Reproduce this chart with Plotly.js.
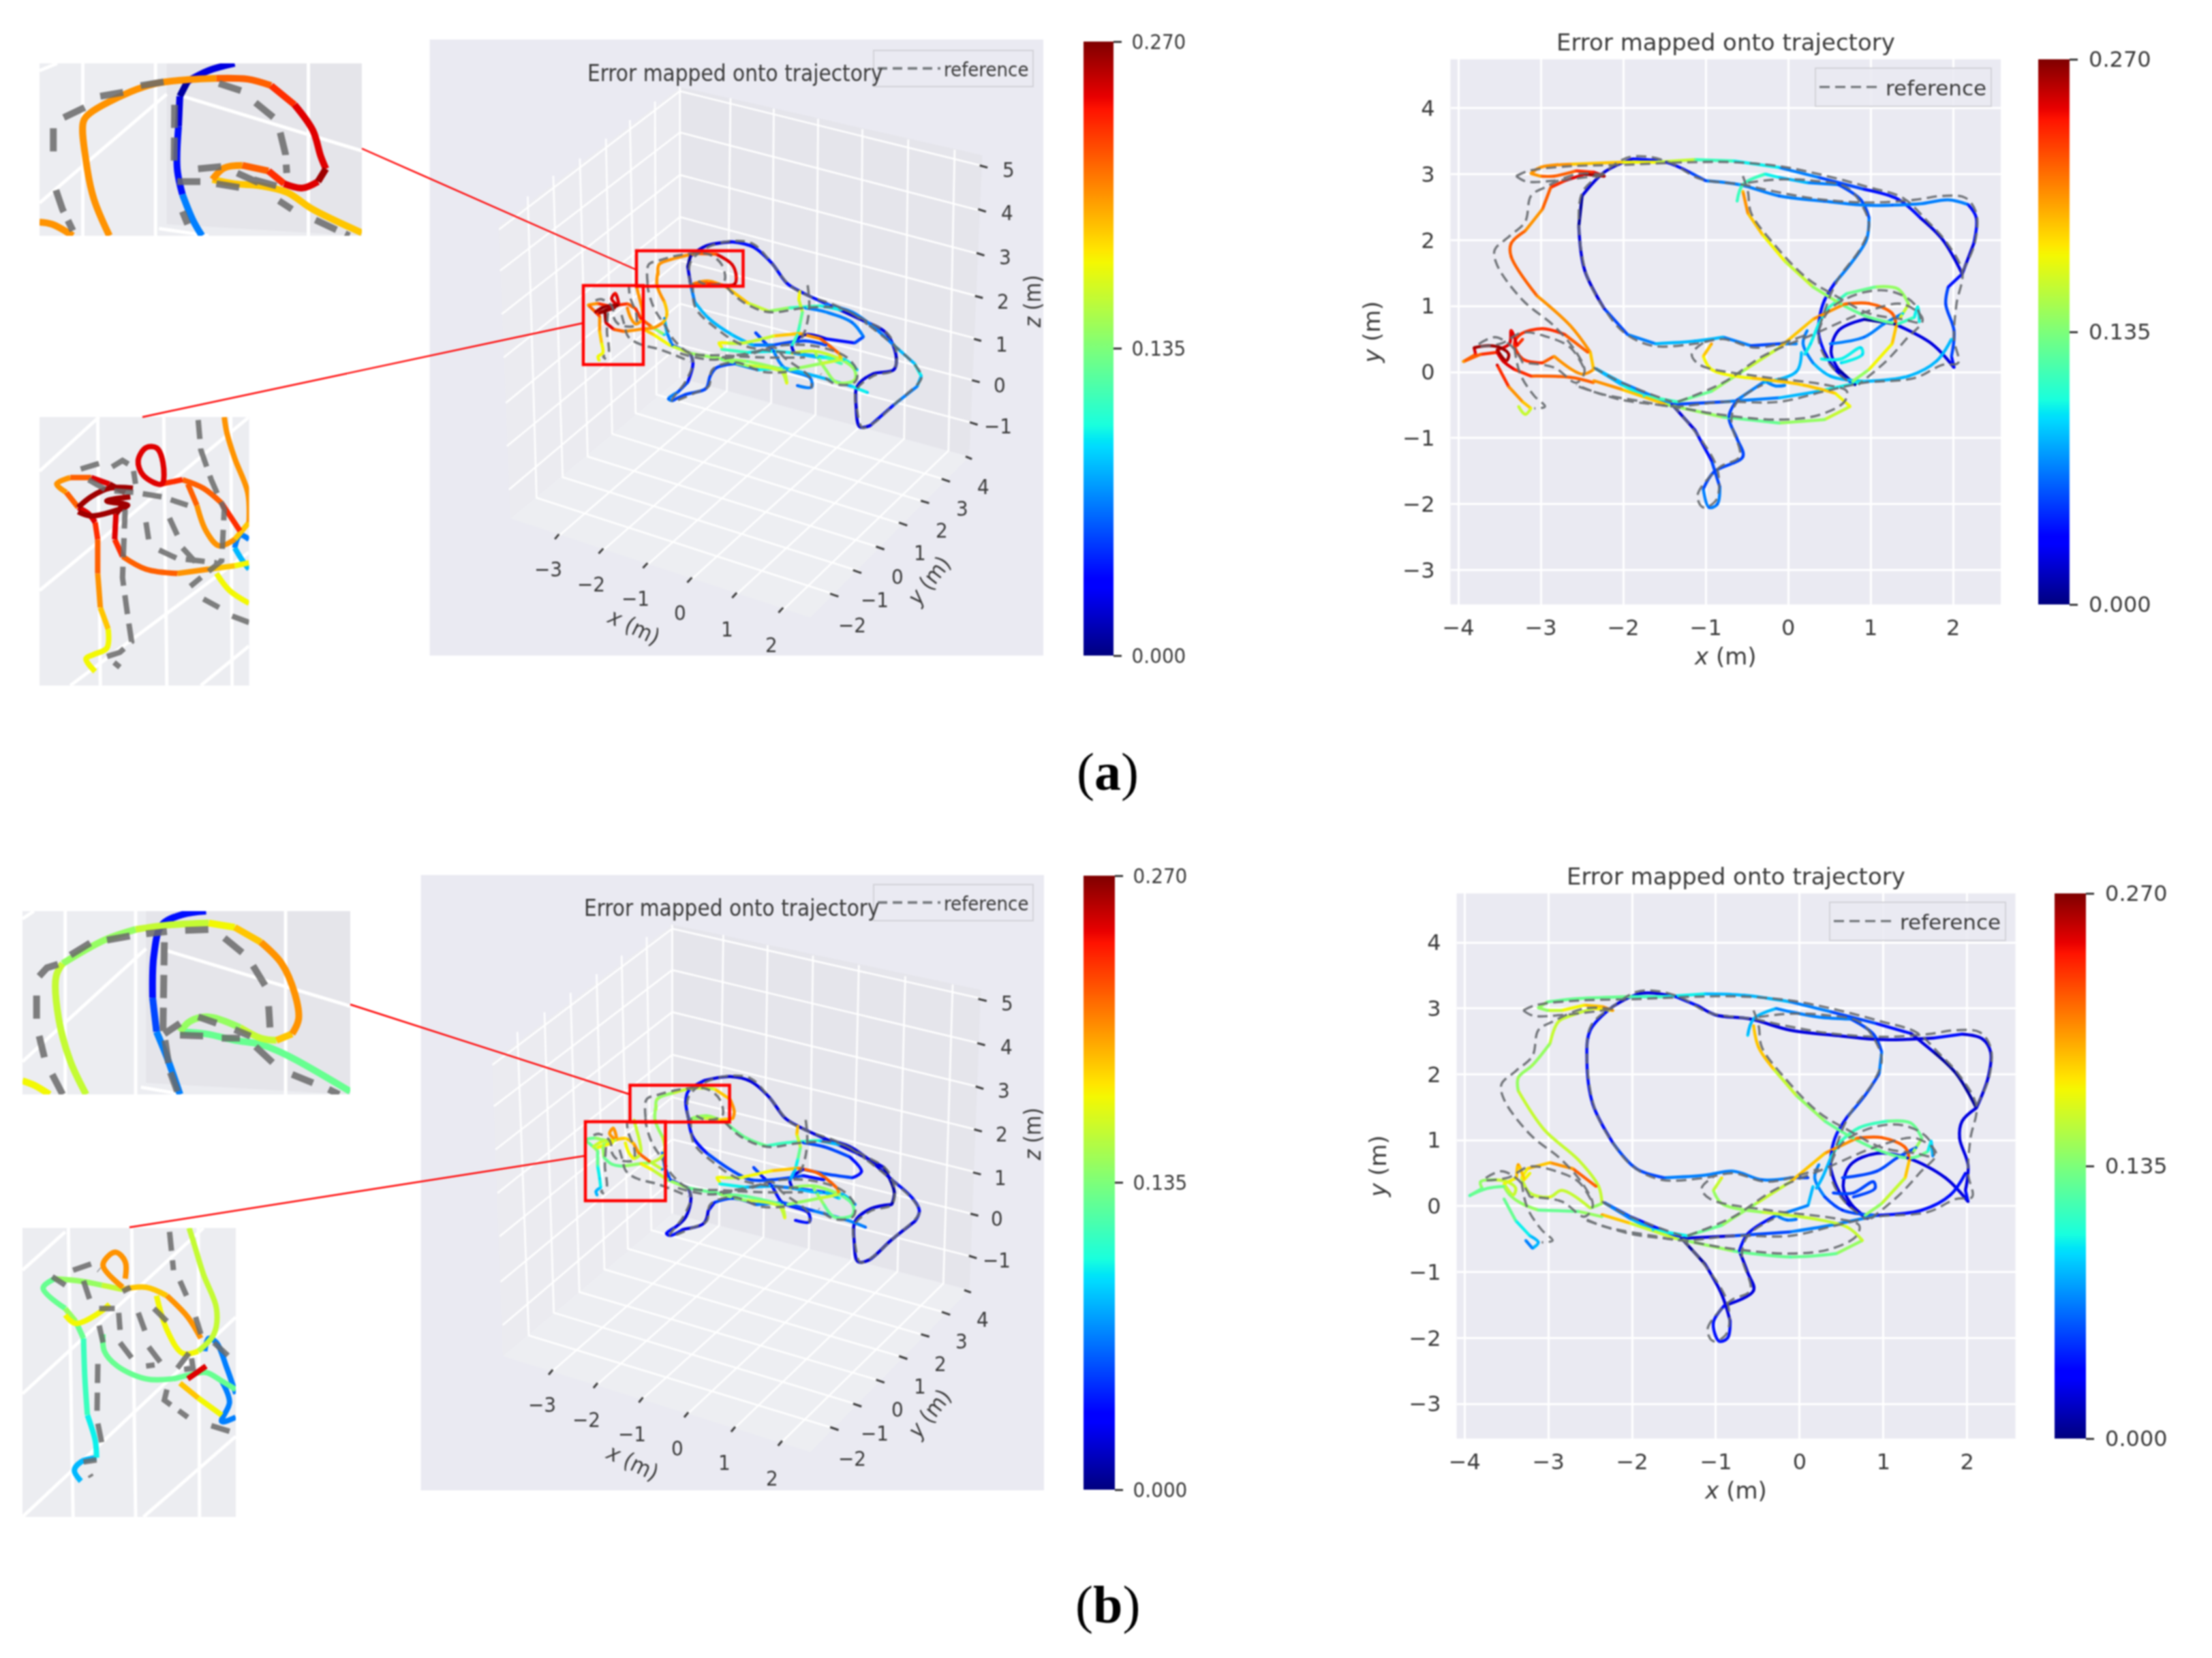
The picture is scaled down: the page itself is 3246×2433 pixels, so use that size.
<!DOCTYPE html>
<html><head><meta charset="utf-8">
<script src="https://cdn.plot.ly/plotly-3.0.1.min.js"></script>
<style>html,body{margin:0;padding:0;background:#fff}#chart{width:3246px;height:2433px;filter:blur(0.8px)}</style>
</head><body><div id="chart"></div>
<script>
// ---------- estimated trajectory, top view (metres); null = break between strokes ----------
const traj_x = [
-3.12,-3.01,-2.64,-2.02,-1.61,-1.13,-.66,-.11,.37,.92,1.33,1.60,1.87,2.11,1.94,1.91,2.01,1.98,2.01,null,
2.11,2.25,2.28,2.18,1.94,1.60,1.26,.92,.44,-.11,-.59,-1.0,-1.20,-1.48,-1.89,-2.23,-2.50,-2.54,-2.47,-2.23,-1.95,-1.61,-1.13,-.79,-.45,-.11,.10,null,
-.62,-.55,-.28,-.11,.23,.61,.88,.98,.95,.78,.57,.44,.38,.37,.44,.57,.81,null,
-.55,-.49,-.31,-.04,.30,.64,.98,1.33,1.53,1.57,1.59,null,
1.36,1.46,1.33,1.05,.71,.47,.37,.27,.20,null,
-2.33,-2.02,-1.75,-1.34,-.93,-.52,-.11,.30,.68,.98,1.26,1.31,1.26,.98,.78,null,
-1.41,-.79,-.11,.37,.92,1.46,1.80,1.98,null,
.92,.51,.30,.18,.23,null,
2.01,1.74,1.29,.92,.61,.52,.61,.81,null,
.51,.92,1.16,1.39,null,
.40,.64,.88,.90,.64,null,
-1.41,-1.13,-.93,-.83,-.86,-.96,-1.03,-.90,-.55,-.62,-.72,-.62,-.31,.10,.16,null,
-2.36,-2.02,-1.48,-.79,-.11,.44,.75,.57,.16,-.45,-.93,-1.03,-.93,null,
-2.23,-2.47,-2.71,-2.88,-2.98,-3.19,-3.36,-3.36,-3.05,-2.64,-2.40,-2.36,-2.50,-2.84,-2.98,-3.22,-3.32,-3.25,-2.98,-2.71,-2.43,null,
-3.12,-3.01,-2.84,-2.57,-2.36,-2.23,null,
-2.36,-2.64,-3.12,-3.32,-3.46,-3.53,-3.73,-3.94,null,
-3.94,-3.79,-3.81,-3.63,-3.49,-3.39,-3.42,-3.53,-3.38,-3.36,-3.29,-3.22,null,
-3.53,-3.39,-3.22,-3.12,-3.19,-3.27,null,
-2.33,-2.02,-1.41,null,
-.25,-.15,-.04];
const traj_y = [
3.01,3.10,3.15,3.18,3.18,3.22,3.20,3.10,2.95,2.77,2.62,2.34,2.01,1.49,1.29,1.03,.63,.24,.07,null,
1.49,1.95,2.34,2.54,2.61,2.55,2.53,2.53,2.59,2.67,2.84,2.90,3.03,3.18,3.23,3.03,2.67,2.21,1.55,.96,.57,.43,.47,.53,.40,.43,.43,null,
2.59,2.84,3.00,2.95,2.87,2.84,2.61,2.34,2.01,1.68,1.36,1.09,.83,.57,.30,.04,-.19,null,
2.74,2.41,2.08,1.68,1.29,1.03,.83,.73,.83,.99,.76,null,
.83,1.03,1.26,1.29,1.19,.96,.73,.43,.27,null,
.05,-.19,-.36,-.45,-.29,.04,.37,.80,1.03,1.04,.89,.70,.43,.04,-.14,null,
-.49,-.45,-.39,-.29,-.14,-.06,.17,.50,null,
-.14,-.06,.14,.43,.63,null,
.07,.43,.73,.80,.63,.30,.04,-.19,null,
.43,.53,.73,.89,null,
.20,.20,.37,.27,.14,null,
-.49,-.88,-1.34,-1.74,-2.0,-2.05,-1.77,-1.51,-1.28,-1.01,-.68,-.42,-.16,.01,.30,null,
-.13,-.26,-.49,-.68,-.77,-.72,-.52,-.32,-.19,-.09,.04,.24,.43,null,
2.97,3.0,2.90,2.80,2.47,2.14,1.95,1.75,1.16,.70,.30,.04,-.03,.24,.14,.20,.43,.57,.66,.57,.30,null,
3.01,2.97,2.97,3.05,3.03,2.97,null,
-.16,-.08,-.06,.04,.17,.30,.27,.16,null,
.16,.27,.37,.40,.37,.27,.17,.34,.43,.63,.40,.50,null,
.11,-.22,-.45,-.55,-.64,-.52,null,
.05,-.16,-.49,null,
-.16,-.21,-.20];
const err_a = [
.2,.2,.2,.18,.17,.13,.1,.09,.06,.04,.03,.03,.02,.02,.04,.05,.05,.05,.03,null,
.02,.03,.03,.05,.07,.07,.06,.07,.06,.06,.08,.05,.04,.03,.03,.02,.01,.01,.02,.03,.06,.08,.08,.08,.05,.05,.07,null,
.11,.11,.1,.09,.08,.05,.05,.06,.07,.07,.05,.03,.04,.03,.03,.02,.01,null,
.19,.2,.18,.16,.14,.13,.13,.12,.1,.1,.1,null,
.17,.15,.14,.13,.12,.1,.1,.09,.09,null,
.08,.09,.1,.11,.13,.15,.17,.19,.21,.22,.22,.2,.18,.16,.13,null,
.04,.05,.08,.09,.09,.08,.08,.09,null,
.09,.08,.07,.07,.07,null,
.03,.02,.01,.01,.02,.02,.01,.01,null,
.06,.06,.06,.09,null,
.1,.1,.09,.09,.09,null,
.02,.03,.04,.06,.06,.06,.06,.05,.05,.05,.05,.05,.07,.08,.09,null,
.2,.2,.16,.13,.13,.14,.17,.18,.18,.18,.17,.18,.2,null,
.25,.26,.24,.22,.21,.21,.22,.22,.21,.2,.19,.19,.2,.2,.23,.23,.24,.23,.23,.23,.22,null,
.2,.2,.22,.23,.24,.26,null,
.21,.22,.23,.24,.25,.25,.22,.2,null,
.2,.23,.26,.27,.27,.26,.25,.26,.24,.24,.24,.23,null,
.25,.21,.19,.17,.16,.16,null,
.07,.08,.04,null,
.07,.07,.07];
const err_b = [
.14,.13,.13,.12,.1,.09,.08,.07,.06,.04,.02,.015,.01,.01,.02,.02,.02,.03,.03,null,
.02,.02,.02,.02,.03,.03,.02,.02,.02,.02,.02,.02,.03,.03,.02,.02,.04,.04,.03,.04,.05,.06,.07,.07,.06,.06,.05,null,
.09,.08,.07,.07,.07,.06,.05,.06,.06,.05,.04,.04,.03,.03,.02,.02,.02,null,
.19,.19,.18,.15,.13,.12,.13,.13,.11,.09,.07,null,
.14,.13,.13,.12,.11,.1,.09,.08,.08,null,
.06,.07,.09,.11,.13,.15,.17,.19,.21,.22,.22,.2,.18,.15,.12,null,
.02,.03,.06,.07,.05,.03,.03,.03,null,
.05,.04,.05,.07,.07,null,
.02,.02,.02,.02,.02,.02,.02,.02,null,
.05,.05,.05,.06,null,
.05,.05,.05,.05,.05,null,
.01,.015,.02,.03,.04,.04,.04,.03,.02,.02,.03,.03,.05,.07,.09,null,
.2,.17,.16,.13,.12,.13,.16,.17,.16,.15,.14,.15,.18,null,
.18,.17,.16,.16,.15,.15,.15,.15,.16,.16,.16,.15,.15,.16,.17,.15,.17,.18,.19,.2,.22,null,
.14,.14,.16,.18,.19,.2,null,
.14,.13,.13,.14,.14,.13,.13,.12,null,
.12,.13,.14,.15,.16,.16,.16,.17,.18,.2,.18,.17,null,
.13,.11,.09,.08,.07,.07,null,
.05,.06,.02,null,
.06,.06,.06];
// ---------- reference trajectory, top view (metres) ----------
const ref_x = [
-3.30,-3.15,-2.64,-2.02,-1.20,-.66,-.11,.44,.98,1.39,1.67,1.91,2.11,2.04,2.01,2.06,1.87,1.53,.92,.44,-.11,-.79,-1.41,-1.75,-2.30,-2.57,null,
2.11,2.26,2.28,2.15,1.87,1.53,.98,.37,-.18,-.55,-1.07,-1.41,-1.68,-1.95,-2.23,-2.49,-2.54,-2.45,-2.23,-1.99,-1.65,-1.13,-.79,-.38,.23,null,
-.55,-.49,-.45,-.18,.23,.57,.98,1.39,1.60,1.53,1.26,.92,.51,.37,null,
-.49,-.11,.30,.71,.92,.98,.88,.61,.47,.37,.51,.78,null,
-2.23,-2.57,-2.95,-3.12,-3.19,-3.39,-3.56,-3.53,-3.22,-2.84,-2.57,-2.47,-2.57,-2.84,-3.22,null,
-3.30,-3.18,-2.84,-2.23,null,
-3.22,-3.29,-3.39,-3.56,-3.77,-3.49,-3.22,-2.91,-2.64,-2.47,null,
-3.32,-3.25,-3.08,-2.95,-3.08,null,
-2.54,-2.02,-1.41,-.79,-.11,.37,.68,.71,.44,-.38,-1.07,-1.17,-1.0,null,
-1.41,-1.10,-.86,-.87,-1.03,-1.10,-.83,-.59,-.69,-.62,-.31,null,
-1.34,-.79,-.31,.30,.98,1.39,1.63,1.43,1.19,.85,null,
-2.36,-2.02,-1.41];
const ref_y = [
2.97,3.05,3.12,3.14,3.18,3.18,3.12,2.98,2.80,2.64,2.31,1.98,1.52,1.03,.50,.14,.11,-.09,-.16,-.29,-.45,-.45,-.52,-.45,-.32,-.19,null,
1.52,1.95,2.41,2.64,2.67,2.61,2.57,2.62,2.74,2.84,2.93,3.16,3.26,3.25,3.03,2.74,2.28,1.49,.96,.60,.40,.43,.50,.37,.57,null,
2.97,2.74,2.41,1.95,1.42,1.16,.89,.80,.76,1.03,1.22,1.21,.96,.63,null,
2.87,2.92,2.90,2.80,2.47,2.21,1.88,1.42,1.03,.50,.11,-.19,null,
2.99,3.0,2.80,2.67,2.28,2.05,1.85,1.62,1.09,.70,.30,.01,-.16,.07,.14,null,
2.97,2.89,2.90,2.99,null,
.14,.30,.43,.53,.40,.43,.60,.53,.37,.04,null,
.37,-.03,-.36,-.52,-.55,null,
-.22,-.42,-.52,-.65,-.72,-.65,-.45,-.29,-.19,-.06,.11,.27,.47,null,
-.49,-.95,-1.47,-1.93,-2.05,-1.87,-1.44,-1.28,-.75,-.45,-.19,null,
-.45,-.16,.24,.57,.93,1.03,.80,.50,.17,-.19,null,
.07,-.16,-.45];
// ---------- 3D views: trajectory as read on the picture (u, v in view units) ----------
const view_u = [
540,535,540,570,620,660,695,725,750,810,870,915,935,930,890,860,858,865,885,930,975,983,970,930,890,850,800,null,
540,548,575,620,660,700,760,800,null,
760,800,850,872,855,800,760,735,740,800,830,null,
478,480,510,550,590,620,628,625,600,570,545,575,610,650,690,730,790,830,null,
478,476,490,495,488,470,449,413,393,378,376,null,
365,363,372,370,366,366,358,344,362,386,402,396,389,402,420,435,445,465,490,null,
358,370,388,400,378,366,395,null,
419,426,435,445,449,447,440,436,null,
490,495,505,540,545,535,515,498,505,530,570,578,590,625,670,720,null,
449,470,500,540,610,650,720,725,715,650,600,null,
600,595,610,640,700,750,790,825,830,790,730,null,
600,650,700,740,785,835,860,null,
665,680,700,720,770,772,745,null,
720,780,850,880,null,
750,748,755,750,745,735,null,
735,780,830,855,855,820,800,780];
const view_v = [
620,580,555,530,520,532,570,620,640,675,710,740,800,830,840,870,920,968,965,915,870,845,815,770,725,690,672,null,
620,665,705,745,770,770,760,770,null,
680,690,715,750,765,755,745,770,790,800,815,null,
600,575,560,548,550,575,605,622,625,620,622,615,630,668,688,680,675,685,null,
590,625,665,695,715,728,731,737,732,716,691,null,
807,798,789,767,737,700,690,673,669,676,673,645,658,673,670,682,706,725,745,null,
690,680,674,674,685,692,680,null,
680,705,719,712,700,680,645,625,null,
705,740,770,790,815,860,885,900,905,890,875,845,825,815,830,825,null,
731,745,770,790,805,810,830,862,835,820,805,null,
775,765,765,765,748,742,755,790,805,815,830,null,
780,788,785,790,800,805,830,null,
740,760,785,825,850,872,868,null,
825,845,870,885,null,
640,660,690,720,745,770,null,
790,785,805,830,855,860,830,790];
const view_err_a = [
.02,.01,.01,.02,.03,.03,.03,.03,.03,.03,.02,.02,.01,.02,.02,.02,.02,.02,.03,.05,.07,.09,.09,.07,.07,.07,.07,null,
.06,.07,.08,.09,.08,.06,.05,.05,null,
.07,.07,.06,.06,.05,.03,.02,.02,.02,.1,.12,null,
.2,.2,.2,.21,.23,.25,.24,.26,.24,.22,.2,.2,.19,.18,.15,.12,.1,.09,null,
.2,.2,.19,.19,.19,.2,.2,.21,.23,.25,.27,null,
.17,.17,.17,.17,.19,.22,.24,.2,.21,.25,.26,.24,.25,.25,.22,.23,.24,.2,.09,null,
.26,.27,.27,.27,.27,.26,.26,null,
.21,.2,.2,.19,.19,.2,.2,.2,null,
.07,.08,.06,.03,.03,.05,.06,.06,.06,.05,.05,.05,.05,.06,.08,.1,null,
.19,.18,.17,.15,.14,.13,.14,.17,.16,.15,.13,null,
.17,.17,.17,.16,.17,.19,.22,.2,.18,.15,.14,null,
.12,.1,.1,.08,.09,.09,.09,null,
.05,.05,.05,.07,.06,.06,.06,null,
.08,.08,.09,.09,null,
.17,.17,.13,.12,.11,.1,null,
.17,.16,.15,.14,.15,.15,.14,.15];
const view_err_b = [
.03,.03,.03,.03,.02,.02,.02,.02,.02,.02,.015,.015,.01,.015,.02,.03,.02,.02,.02,.02,.03,.03,.03,.03,.02,.02,.03,null,
.03,.03,.04,.05,.05,.05,.04,.04,null,
.05,.05,.04,.03,.04,.06,.03,.02,.02,.06,.1,null,
.15,.15,.15,.16,.17,.19,.2,.2,.17,.15,.13,.14,.13,.13,.12,.11,.1,.07,null,
.15,.15,.15,.16,.16,.15,.14,.13,.13,.13,.14,null,
.08,.08,.09,.09,.11,.13,.14,.12,.14,.15,.19,.2,.2,.19,.18,.19,.21,.23,.07,null,
.16,.17,.16,.15,.14,.17,.17,null,
.17,.17,.17,.16,.16,.16,.16,.16,null,
.06,.06,.05,.02,.02,.02,.03,.03,.03,.03,.02,.03,.04,.05,.06,.09,null,
.18,.17,.14,.13,.13,.12,.14,.17,.16,.14,.13,null,
.17,.17,.17,.16,.18,.2,.22,.21,.18,.15,.13,null,
.1,.09,.07,.07,.08,.08,.07,null,
.05,.04,.04,.04,.03,.03,.03,null,
.05,.06,.07,.06,null,
.19,.18,.15,.11,.09,.07,null,
.15,.14,.13,.13,.13,.13,.13,.14];
const view_ref_u = [
540,540,575,625,660,695,730,765,820,875,920,935,930,890,858,860,870,890,930,983,975,930,880,null,
545,550,590,640,700,760,null,
610,640,690,760,830,880,null,
458,460,480,530,575,600,605,575,555,null,
458,458,470,490,510,540,600,680,760,null,
358,369,388,392,393,402,418,435,436,430,424,422,null,
382,380,383,383,373,378,null,
408,413,419,428,448,480,540,null,
765,768,760,745,null,
520,575,620,660,700,720,770,772,null,
600,650,720,790,840,860,855,820,790,null,
540,545,530,505,550,575,582,625,680,725];
const view_ref_v = [
625,570,532,518,525,570,625,650,675,710,745,790,830,845,880,930,970,960,915,850,825,770,720,null,
620,680,730,770,785,790,null,
630,665,690,680,682,720,null,
620,575,565,550,550,575,615,625,615,null,
620,630,680,720,760,790,795,800,800,null,
662,659,673,685,703,719,725,722,691,673,652,627,null,
691,740,767,789,798,804,null,
697,719,746,758,770,780,810,null,
625,680,735,770,null,
790,805,800,790,775,800,850,875,null,
800,790,770,775,800,835,860,865,840,null,
790,815,860,905,885,870,830,812,835,835];
// ---------- 3D view furniture, panel (a) then panel (b) ----------
const a_left_wall_u = [172,520,520,195], a_left_wall_v = [480,145,850,1190];
const a_back_wall_u = [520,1100,1075,520], a_back_wall_v = [145,310,1040,850];
const a_floor_u = [195,520,1075,770], a_floor_v = [1190,850,1040,1430];
const a_grid_u = [617,610,285,null,700,695,370,null,785,780,455,null,870,865,540,null,958,950,625,null,1047,1035,715,null,
228,245,820,null,277,295,865,null,328,343,908,null,378,390,950,null,424,435,990,null,472,475,1032,null,
173,520,1103,null,175,520,1098,null,178,520,1095,null,182,520,1092,null,186,520,1090,null,188,520,1087,null,192,520,1085,null,520,520];
const a_grid_v = [172,881,1235,null,197,910,1270,null,222,939,1305,null,247,968,1340,null,272,997,1378,null,297,1026,1415,null,
410,1140,1375,null,360,1090,1318,null,318,1040,1262,null,270,985,1205,null,225,935,1150,null,180,890,1097,null,
490,155,337,null,590,255,445,null,695,358,550,null,800,460,652,null,910,565,755,null,1015,670,857,null,1120,770,960,null,145,850];
const a_tick_u = [1095,1110,null,1092,1107,null,1089,1104,null,1086,1101,null,1084,1098,null,1080,1095,null,1076,1091,null,1068,1080,null,
280,288,null,364,373,null,449,458,null,534,543,null,620,629,null,709,718,null,
808,824,null,852,868,null,896,912,null,940,956,null,982,998,null,1022,1038];
const a_tick_v = [335,340,null,441,447,null,547,553,null,651,656,null,755,760,null,855,860,null,957,963,null,1040,1046,null,
1240,1228,null,1275,1263,null,1310,1298,null,1345,1333,null,1382,1370,null,1418,1406,null,
1372,1379,null,1315,1322,null,1258,1265,null,1200,1207,null,1147,1153,null,1094,1101];
const b_left_wall_u = [160,505,505,180], b_left_wall_v = [490,160,860,1205];
const b_back_wall_u = [505,1097,1075,505], b_back_wall_v = [160,318,1045,860];
const b_floor_u = [180,505,1075,770], b_floor_v = [1205,860,1045,1437];
const b_grid_u = [603,595,272,null,688,680,358,null,775,767,445,null,863,850,532,null,952,937,622,null,1043,1025,712,null,
208,230,815,null,260,278,860,null,310,327,905,null,360,375,948,null,408,420,990,null,456,465,1030,null,
160,505,1100,null,163,505,1096,null,166,505,1093,null,170,505,1090,null,174,505,1088,null,176,505,1085,null,180,505,1082,null,505,505];
const b_grid_v = [185,889,1245,null,210,917,1277,null,235,945,1312,null,258,972,1348,null,285,1000,1383,null,305,1029,1417,null,
420,1155,1380,null,372,1100,1322,null,325,1050,1265,null,280,995,1208,null,235,945,1155,null,190,900,1100,null,
500,170,340,null,600,270,448,null,705,372,553,null,810,475,657,null,915,578,760,null,1025,680,862,null,1130,780,965,null,160,860];
const b_tick_u = [1092,1108,null,1090,1105,null,1087,1102,null,1084,1099,null,1082,1097,null,1077,1092,null,1074,1089,null,1065,1078,null,
268,276,null,354,362,null,441,449,null,528,536,null,618,626,null,708,716,null,
808,824,null,852,868,null,896,912,null,940,956,null,982,998,null,1022,1038];
const b_tick_v = [340,345,null,447,452,null,552,558,null,656,661,null,760,765,null,860,865,null,962,968,null,1045,1051,null,
1250,1238,null,1282,1270,null,1317,1305,null,1353,1341,null,1388,1376,null,1422,1410,null,
1377,1384,null,1320,1327,null,1262,1269,null,1205,1212,null,1152,1158,null,1098,1105];
// tick labels of the 3D views
const x_ticks = ['−3','−2','−1','0','1','2'], y_ticks = ['−2','−1','0','1','2','3','4'], z_ticks = ['5','4','3','2','1','0','−1'];
const a_x_lab_u=[267,350,435,520,610,695], a_x_lab_v=[1312,1348,1384,1418,1458,1495];
const a_y_lab_u=[850,893,937,980,1022,1062,1102], a_y_lab_v=[1447,1387,1330,1272,1218,1165,1112];
const a_z_lab_u=[1150,1148,1144,1140,1137,1133,1130], a_z_lab_v=[345,450,557,663,767,867,965];
const b_x_lab_u=[255,340,428,515,605,696], b_x_lab_v=[1322,1358,1393,1427,1463,1500];
const b_y_lab_u=[850,893,937,980,1020,1060,1100], b_y_lab_v=[1452,1392,1333,1277,1223,1168,1116];
const b_z_lab_u=[1148,1146,1141,1137,1135,1128,1127], b_z_lab_v=[350,455,562,667,772,872,972];
// ---------- magnified details ----------
const i1a_u=[420,360,330,320,345,500,600,700,830,950,1040,1130,1200,1230,1250,1220,1160,1090,1030,930,860,815,900,1000,1100,1200,1388,null,900,800,720,690,685,680,700,740,775,null,152,200,280];
const i1a_v=[457,370,280,190,170,120,100,92,88,90,105,150,210,270,300,330,345,335,305,292,298,325,335,340,355,395,450,null,53,70,95,130,200,300,360,420,457,null,425,430,457];
const i1a_e=[.19,.2,.2,.2,.2,.2,.2,.2,.21,.22,.23,.24,.25,.24,.25,.26,.24,.24,.22,.21,.2,.19,.19,.19,.19,.19,.18,null,.02,.02,.01,.01,.03,.03,.05,.07,.07,null,.21,.21,.21];
const i1a_ru=[245,330,null,385,480,null,540,640,null,840,940,null,980,1050,null,1075,1095,1100,null,1060,940,null,760,850,null,910,1000,null,1070,1120,null,1210,1340,null,205,205,null,215,240,280,null,670,668,null,680,770,null,830,930,null,700,720];
const i1a_rv=[180,155,null,130,120,null,105,95,null,100,120,null,145,180,null,215,265,310,null,340,320,null,300,295,null,310,335,null,375,395,null,420,457,null,205,260,null,350,395,445,null,150,300,null,330,330,null,335,345,null,400,430];
const i2a_u=[365,330,360,410,415,385,375,375,365,340,300,255,218,270,350,420,480,null,300,350,420,510,null,300,350,430,490,410,500,null,470,445,440,470,560,680,800,900,955,null,620,625,600,560,530,550,620,700,780,850,920,null,720,755,790,840,900,955,950,900,870,860,null,830,880,955,null,955,920,900,930,955];
const i2a_v=[1480,1450,1440,1425,1380,1330,1250,1170,1130,1110,1095,1060,1040,1025,1025,1040,1060,null,1095,1070,1050,1050,null,1105,1115,1105,1090,1080,1070,null,1090,1110,1170,1210,1240,1250,1240,1232,1225,null,1040,990,955,955,985,1020,1040,1030,1050,1085,1150,null,1040,1090,1150,1185,1170,1130,1060,980,920,883,null,1250,1290,1320,null,1170,1160,1190,1220,1240];
const i2a_e=[.17,.17,.17,.17,.18,.19,.21,.22,.24,.25,.23,.2,.2,.21,.23,.25,.26,null,.26,.27,.27,.27,null,.26,.27,.27,.27,.25,.27,null,.27,.25,.24,.23,.22,.21,.2,.18,.16,null,.25,.24,.24,.24,.25,.25,.25,.22,.22,.23,.24,null,.22,.21,.2,.2,.19,.19,.2,.2,.2,.2,null,.18,.17,.17,null,.07,.07,.07,.08,.09];
const i2a_ru=[310,390,null,430,470,510,520,null,340,410,520,620,720,null,480,470,490,505,460,410,460,null,560,570,null,650,680,null,610,680,760,830,null,700,760,null,760,770,810,860,850,730,null,780,840,null,890,955];
const i2a_rv=[1005,990,null,1000,985,1000,1040,null,1030,1055,1060,1070,1090,null,1100,1260,1350,1410,1435,1445,1470,null,1130,1170,null,1120,1160,null,1195,1215,1220,1225,null,1190,1230,null,890,960,1030,1100,1220,1280,null,1310,1330,null,1350,1365];
const i1b_u=[330,270,225,215,240,400,520,640,800,900,1000,1080,1130,1145,1120,1060,1000,920,800,730,690,790,900,1000,1100,1343,null,790,700,620,590,585,600,640,690,null,86,130,190];
const i1b_v=[457,380,280,180,150,95,70,60,55,65,100,150,220,280,315,330,325,300,275,285,310,315,330,340,365,450,null,27,35,60,130,230,310,370,457,null,425,435,457];
const i1b_e=[.16,.16,.16,.16,.15,.15,.15,.16,.17,.18,.19,.2,.2,.2,.19,.17,.16,.15,.15,.14,.13,.13,.13,.13,.12,.12,null,.03,.03,.03,.035,.05,.06,.07,.07,null,.17,.17,.17];
const i1b_ru=[150,180,230,null,270,350,null,410,500,null,560,640,null,710,800,null,860,930,null,970,1020,null,1030,1035,null,960,900,null,830,760,null,690,630,null,690,780,null,850,920,null,980,1050,null,1120,1200,null,1260,1300,null,140,140,null,150,170,null,200,240,null,630,625,625,650,680];
const i1b_rv=[180,160,150,null,130,100,null,95,85,null,80,75,null,72,70,null,90,125,null,155,205,null,250,300,null,320,305,null,290,275,null,290,315,null,318,320,null,325,325,null,345,385,null,410,430,null,445,457,null,225,285,null,320,370,null,410,457,null,100,200,300,400,450];
const i2b_u=[310,285,310,370,365,335,325,320,290,250,165,210,300,390,470,null,395,400,450,560,660,730,790,850,904,null,250,290,380,420,null,480,480,445,410,395,470,null,470,560,640,720,770,null,600,640,700,760,820,830,780,740,725,null,720,790,null,690,760,850,null,785,800,830,870,904,null,850,880,850,904];
const i2b_v=[1365,1340,1320,1310,1270,1210,1120,1030,990,960,912,890,895,905,915,null,1020,1060,1095,1125,1125,1115,1110,1130,1150,null,975,995,970,950,null,890,850,828,840,860,910,null,915,910,930,980,1030,null,930,1010,1065,1060,1020,960,880,800,771,null,1125,1095,null,1135,1170,1210,null,1060,1030,1040,1100,1160,null,1130,1180,1225,1215];
const i2b_e=[.08,.08,.08,.09,.09,.1,.11,.12,.13,.14,.12,.13,.14,.15,.17,null,.13,.13,.13,.13,.13,.13,.13,.13,.13,null,.17,.17,.17,.17,null,.2,.2,.2,.2,.2,.2,null,.18,.18,.19,.2,.21,null,.17,.17,.17,.17,.16,.16,.16,.16,.16,null,.24,.24,null,.2,.18,.17,null,.06,.06,.06,.06,.06,null,.07,.07,.07,.07];
const i2b_ru=[200,250,null,280,350,380,null,470,500,null,320,350,null,380,440,null,380,395,null,460,510,null,375,372,null,375,395,null,320,370,null,345,350,null,455,460,null,530,560,null,650,665,null,690,715,null,750,770,null,590,640,null,570,620,560,null,680,730,740,680,null,640,630,720,null,810,890,null,820,900];
const i2b_rv=[885,905,null,870,855,870,null,920,910,null,895,950,null,960,960,null,1000,1040,null,1040,1080,null,1090,1200,null,1230,1290,null,1320,1315,null,1350,1355,null,970,1010,null,970,1020,null,780,870,null,895,930,null,980,1020,null,960,990,null,1050,1090,1095,null,1100,1060,1100,1105,null,1150,1175,1215,null,1235,1250,null,1040,1085];
// inset grids and shaded wall
const i1a_gu=[318,318,null,597,597,null,1183,1183,null,152,640,null,700,1388,null,610,800,null,152,220];
const i1a_gv=[53,457,null,53,457,null,53,457,null,380,125,null,130,258,null,440,457,null,70,53];
const i2a_gu=[375,385,null,628,640,null,885,890,null,152,380,null,152,955,null,270,955,null,770,955];
const i2a_gv=[883,1513,null,883,1513,null,883,1513,null,1010,883,null,1290,883,null,1513,1200,null,1513,1420];
const i1b_gu=[250,250,null,520,520,null,1095,1095,null,86,560,null,640,1343,null,540,700,null,86,130];
const i1b_gv=[27,457,null,27,457,null,27,457,null,380,115,null,120,250,null,440,457,null,45,27];
const i2b_gu=[262,280,null,505,520,null,760,765,null,86,250,null,86,780,null,86,904,null,550,904];
const i2b_gv=[771,1449,null,771,1449,null,771,1449,null,870,780,null,1160,771,null,1449,980,null,1449,1260];
const i1a_wu=[640,1388,1388,640], i1a_wv=[53,53,457,430];
const i1b_wu=[560,1343,1343,560], i1b_wv=[27,27,457,430];
const title_text='Error mapped onto trajectory', legend_text='reference';
const cbar_ticks=[0,0.135,0.27], cbar_labels=['\u00a00.000','\u00a00.135','\u00a00.270'];

// ---------- machinery ----------
const W=3246,H=2433;
const FN='"DejaVu Sans",sans-serif', FC='"DejaVu Sans Condensed","Liberation Sans",sans-serif', TXT='#3a3a3a';
const jet=[[0,'#00007f'],[.11,'#0000ff'],[.125,'#0000ff'],[.34,'#00dbff'],[.35,'#00e5f7'],[.375,'#19ffde'],[.5,'#7dff7a'],[.64,'#f4f802'],[.66,'#ffe600'],[.89,'#ff1300'],[.91,'#e80000'],[1,'#7f0000']];
function hex(c){return [1,3,5].map(i=>parseInt(c.substr(i,2),16));}
function jetColor(t){t=Math.max(0,Math.min(1,t));for(let i=1;i<jet.length;i++){if(t<=jet[i][0]){const a=jet[i-1],b=jet[i],f=(t-a[0])/(b[0]-a[0]||1),p=hex(a[1]),q=hex(b[1]);return 'rgb('+p.map((v,k)=>Math.round(v+(q[k]-v)*f)).join(',')+')';}}return jet[jet.length-1][1];}
const traces=[],annotations=[],shapes=[];
const layout={width:W,height:H,margin:{l:0,r:0,t:0,b:0},paper_bgcolor:'#fff',plot_bgcolor:'#eaeaf2',showlegend:true,hovermode:false,annotations,shapes};
let nAx=0;
function axes(box,rx,ry,extraX,extraY,over){
  nAx++;const n=nAx===1?'':nAx;
  layout['xaxis'+n]=Object.assign({domain:[box[0]/W,box[1]/W],range:rx,anchor:'y'+n,visible:false,fixedrange:true},extraX||{},over?{overlaying:over.x}:{});
  layout['yaxis'+n]=Object.assign({domain:[1-box[3]/H,1-box[2]/H],range:ry,anchor:'x'+n,visible:false,fixedrange:true},extraY||{},over?{overlaying:over.y}:{});
  return {x:'x'+n,y:'y'+n};
}
function colored(ax,xs,ys,es,width,bins){
  bins=bins||18;const bx=[],by=[];for(let b=0;b<bins;b++){bx.push([]);by.push([]);}
  let last=-1;
  for(let i=0;i+1<xs.length;i++){
    if(xs[i]===null||xs[i+1]===null){ if(last>=0){bx[last].push(null);by[last].push(null);} last=-1;continue;}
    const e=((es[i]||0.1)+(es[i+1]||0.1))/2,b=Math.min(bins-1,Math.floor(e/0.27*bins));
    if(b!==last){if(last>=0){bx[last].push(null);by[last].push(null);}bx[b].push(xs[i]);by[b].push(ys[i]);}
    bx[b].push(xs[i+1]);by[b].push(ys[i+1]);last=b;
  }
  for(let b=0;b<bins;b++){ if(!bx[b].length)continue;
    traces.push({type:'scatter',mode:'lines',x:bx[b],y:by[b],xaxis:ax.x,yaxis:ax.y,showlegend:false,hoverinfo:'skip',
      line:{color:jetColor((b+.5)/bins),width:width,shape:'spline',smoothing:1,simplify:false}});
  }
}
function dots(ax,xs,ys,es,size,ca){
  traces.push({type:'scatter',mode:'markers',x:xs,y:ys,xaxis:ax.x,yaxis:ax.y,showlegend:false,hoverinfo:'skip',
    marker:{color:es,size:size,coloraxis:ca}});
}
function refLine(ax,xs,ys,width,dash,legend){
  traces.push({type:'scatter',mode:'lines',name:legend_text,x:xs,y:ys,xaxis:ax.x,yaxis:ax.y,hoverinfo:'skip',
    showlegend:!!legend,legend:legend||undefined,opacity:.9,
    line:{color:'#666a6e',width:width,dash:dash,shape:'spline',smoothing:1,simplify:false}});
}
function setColorbar(name,box){
  layout[name]={cmin:0,cmax:.27,colorscale:jet,colorbar:{x:box[0]/W,xref:'paper',xanchor:'left',y:1-box[3]/H,yref:'paper',yanchor:'bottom',
    len:(box[3]-box[2])/H,lenmode:'fraction',thickness:box[1]-box[0],thicknessmode:'pixels',xpad:0,ypad:0,outlinewidth:0,
    ticks:'outside',ticklen:box[5],tickwidth:3,tickcolor:'#3a3a3a',tickvals:cbar_ticks,ticktext:cbar_labels,
    tickfont:{size:box[6],family:box[4],color:TXT}}};
}
function setLegend(name,box,size,family){
  layout[name]={x:box[1]/W,xref:'paper',xanchor:'right',y:1-box[2]/H,yref:'paper',yanchor:'top',bgcolor:'rgba(234,234,242,.85)',
    bordercolor:'#d2d2d8',borderwidth:2,font:{size:size,family:family,color:TXT},itemwidth:92,itemclick:false,itemdoubleclick:false};
}
function panel2D(box,rx,ry,es,ca,legend,lbox,titleY){
  const ax=axes(box,rx,ry,
   {visible:true,tickmode:'array',tickvals:[-4,-3,-2,-1,0,1,2],showgrid:true,gridcolor:'#fff',gridwidth:3,zeroline:false,showline:false,ticks:'',ticklabelstandoff:12,
    tickfont:{size:32,family:FN,color:TXT},title:{text:'<i>x</i> (m)',font:{size:34,family:FN,color:TXT},standoff:12}},
   {visible:true,tickmode:'array',tickvals:[-3,-2,-1,0,1,2,3,4],showgrid:true,gridcolor:'#fff',gridwidth:3,zeroline:false,showline:false,ticks:'',ticklabelstandoff:22,
    tickfont:{size:32,family:FN,color:TXT},title:{text:'<i>y</i> (m)',font:{size:34,family:FN,color:TXT},standoff:22}});
  colored(ax,traj_x,traj_y,es,4.5);
  dots(ax,traj_x,traj_y,es,4,ca);
  refLine(ax,ref_x,ref_y,3.4,'15px,8px',legend);
  setLegend(legend,lbox,31,FN);
  annotations.push({xref:'paper',yref:'paper',x:(box[0]+box[1])/2/W,y:1-titleY/H,text:title_text,showarrow:false,xanchor:'center',yanchor:'middle',font:{size:34,family:FN,color:TXT}});
}
function fillPoly(ax,u,v,c){traces.push({type:'scatter',mode:'lines',x:u,y:v,xaxis:ax.x,yaxis:ax.y,fill:'toself',fillcolor:c,line:{width:0,color:c},showlegend:false,hoverinfo:'skip'});}
function simple(ax,u,v,c,w){traces.push({type:'scatter',mode:'lines',x:u,y:v,xaxis:ax.x,yaxis:ax.y,line:{color:c,width:w},showlegend:false,hoverinfo:'skip'});}
function labels(ax,us,vs,txt){txt.forEach((t,i)=>annotations.push({xref:ax.x,yref:ax.y,x:us[i],y:vs[i],text:t,showarrow:false,xanchor:'center',yanchor:'middle',font:{size:31,family:FC,color:TXT}}));}
function note(ax,u,v,t,ang,size){annotations.push({xref:ax.x,yref:ax.y,x:u,y:v,text:t,showarrow:false,textangle:ang,xanchor:'center',yanchor:'middle',font:{size:size||31,family:FC,color:TXT}});}
function panel3D(box,ru,rv,shift,f,es,ca,legend,lbox,titlePos,tx,ty,tz){
  const ax=axes(box,ru,rv);
  fillPoly(ax,f.lu,f.lv,'#ebebf0');fillPoly(ax,f.bu,f.bv,'#e5e5eb');fillPoly(ax,f.fu,f.fv,'#edeef2');
  simple(ax,f.gu,f.gv,'#fff',2.6);simple(ax,f.tu,f.tv,'#3a3a3a',3);
  const ov=axes(box,[ru[0]-shift[0],ru[1]-shift[0]],[rv[0]-shift[1],rv[1]-shift[1]],null,null,{x:ax.x,y:ax.y});
  colored(ov,view_u,view_v,es,4.6);
  dots(ov,view_u,view_v,es,4,ca);
  refLine(ov,view_ref_u,view_ref_v,3.6,'14px,8px',legend);
  setLegend(legend,lbox,29,FC);
  labels(ax,f.xu,f.xv,x_ticks);labels(ax,f.yu,f.yv,y_ticks);labels(ax,f.zu,f.zv,z_ticks);
  note(ax,titlePos[0],titlePos[1],title_text,0,33);
  note(ax,tx[0],tx[1],'<i>x</i> (m)',26,33);note(ax,ty[0],ty[1],'<i>y</i> (m)',-52,33);note(ax,tz[0],tz[1],'<i>z</i> (m)',-90,33);
}
function inset(box,ru,rv,wall,gu,gv,u,v,e,ru2,rv2,w,dash){
  const ax=axes(box,ru,rv,null,null);
  fillPoly(ax,[ru[0],ru[1],ru[1],ru[0]],[rv[0],rv[0],rv[1],rv[1]],'#ecedf1');
  if(wall)fillPoly(ax,wall[0],wall[1],'#e5e5ea');
  simple(ax,gu,gv,'#fff',5);
  colored(ax,u,v,e,w);
  traces.push({type:'scatter',mode:'lines',x:ru2,y:rv2,xaxis:ax.x,yaxis:ax.y,showlegend:false,hoverinfo:'skip',opacity:.85,line:{color:'#6a6a6a',width:w,dash:dash}});
}
// ---------- assemble ----------
inset([58,531,93,346],[152,1388],[457,53],[i1a_wu,i1a_wv],i1a_gu,i1a_gv,i1a_u,i1a_v,i1a_e,i1a_ru,i1a_rv,10,'34px,14px');
inset([58,365.5,612,1006],[152,955],[1513,883],null,i2a_gu,i2a_gv,i2a_u,i2a_v,i2a_e,i2a_ru,i2a_rv,8,'28px,14px');
inset([33,514,1337,1606],[86,1343],[457,27],[i1b_wu,i1b_wv],i1b_gu,i1b_gv,i1b_u,i1b_v,i1b_e,i1b_ru,i1b_rv,10,'34px,14px');
inset([33,346,1802,2226],[86,904],[1449,771],null,i2b_gu,i2b_gv,i2b_u,i2b_v,i2b_e,i2b_ru,i2b_rv,8,'28px,14px');
panel3D([630.6,1531,58,962],[40,1217],[1522,30],[0,0],
  {lu:a_left_wall_u,lv:a_left_wall_v,bu:a_back_wall_u,bv:a_back_wall_v,fu:a_floor_u,fv:a_floor_v,gu:a_grid_u,gv:a_grid_v,tu:a_tick_u,tv:a_tick_v,
   xu:a_x_lab_u,xv:a_x_lab_v,yu:a_y_lab_u,yv:a_y_lab_v,zu:a_z_lab_u,zv:a_z_lab_v},
  view_err_a,'coloraxis','legend',[1291,1517,73,117],[626,112],[432,1452],[998,1340],[1197,665]);
panel2D([2128.5,2936,87,887],[-4.096,2.577],[-3.52,4.74],err_a,'coloraxis2','legend2',[2657,2923,99,143],62);
panel3D([617.6,1532,1284,2187],[23,1218],[1530,40],[-4,8],
  {lu:b_left_wall_u,lv:b_left_wall_v,bu:b_back_wall_u,bv:b_back_wall_v,fu:b_floor_u,fv:b_floor_v,gu:b_grid_u,gv:b_grid_v,tu:b_tick_u,tv:b_tick_v,
   xu:b_x_lab_u,xv:b_x_lab_v,yu:b_y_lab_u,yv:b_y_lab_v,zu:b_z_lab_u,zv:b_z_lab_v},
  view_err_b,'coloraxis3','legend3',[1291,1517,1297,1341],[620,120],[428,1462],[998,1345],[1197,668]);
panel2D([2137.6,2957.5,1311,2111],[-4.095,2.576],[-3.527,4.746],err_b,'coloraxis4','legend4',[2675,2944,1323,1368],1286);
setColorbar('coloraxis',[1589.5,1633,61,962,FC,12,31]);
setColorbar('coloraxis2',[2991,3037,87,887,FN,12,32]);
setColorbar('coloraxis3',[1590,1635.5,1285,2186,FC,12,31]);
setColorbar('coloraxis4',[3014.5,3060,1311,2111,FN,12,32]);
// callouts
function pline(x0,y0,x1,y1,w){shapes.push({type:'line',xref:'paper',yref:'paper',x0:x0/W,y0:1-y0/H,x1:x1/W,y1:1-y1/H,line:{color:'#f00',width:w},layer:'above'});}
function prect(x0,x1,y0,y1){shapes.push({type:'rect',xref:'paper',yref:'paper',x0:x0/W,y0:1-y0/H,x1:x1/W,y1:1-y1/H,line:{color:'#f00',width:4.5},layer:'above'});}
prect(934,1090.5,368,420);prect(856,944,419,535);
prect(924.5,1070.6,1592.6,1646.6);prect(859,976.5,1646,1762);
pline(531,218,934,396,2.4);pline(209,612,856,474,2.4);
pline(514,1474,924.5,1606,2.4);pline(190,1801,859,1696,2.4);
[['(<b>a</b>)',1132],['(<b>b</b>)',2354]].forEach(p=>annotations.push({xref:'paper',yref:'paper',x:1625/W,y:1-p[1]/H,text:p[0],showarrow:false,xanchor:'center',yanchor:'middle',font:{size:78,family:'"Liberation Serif",serif',color:'#000'}}));
Plotly.newPlot('chart',traces,layout,{staticPlot:true,displayModeBar:false});
</script></body></html>
